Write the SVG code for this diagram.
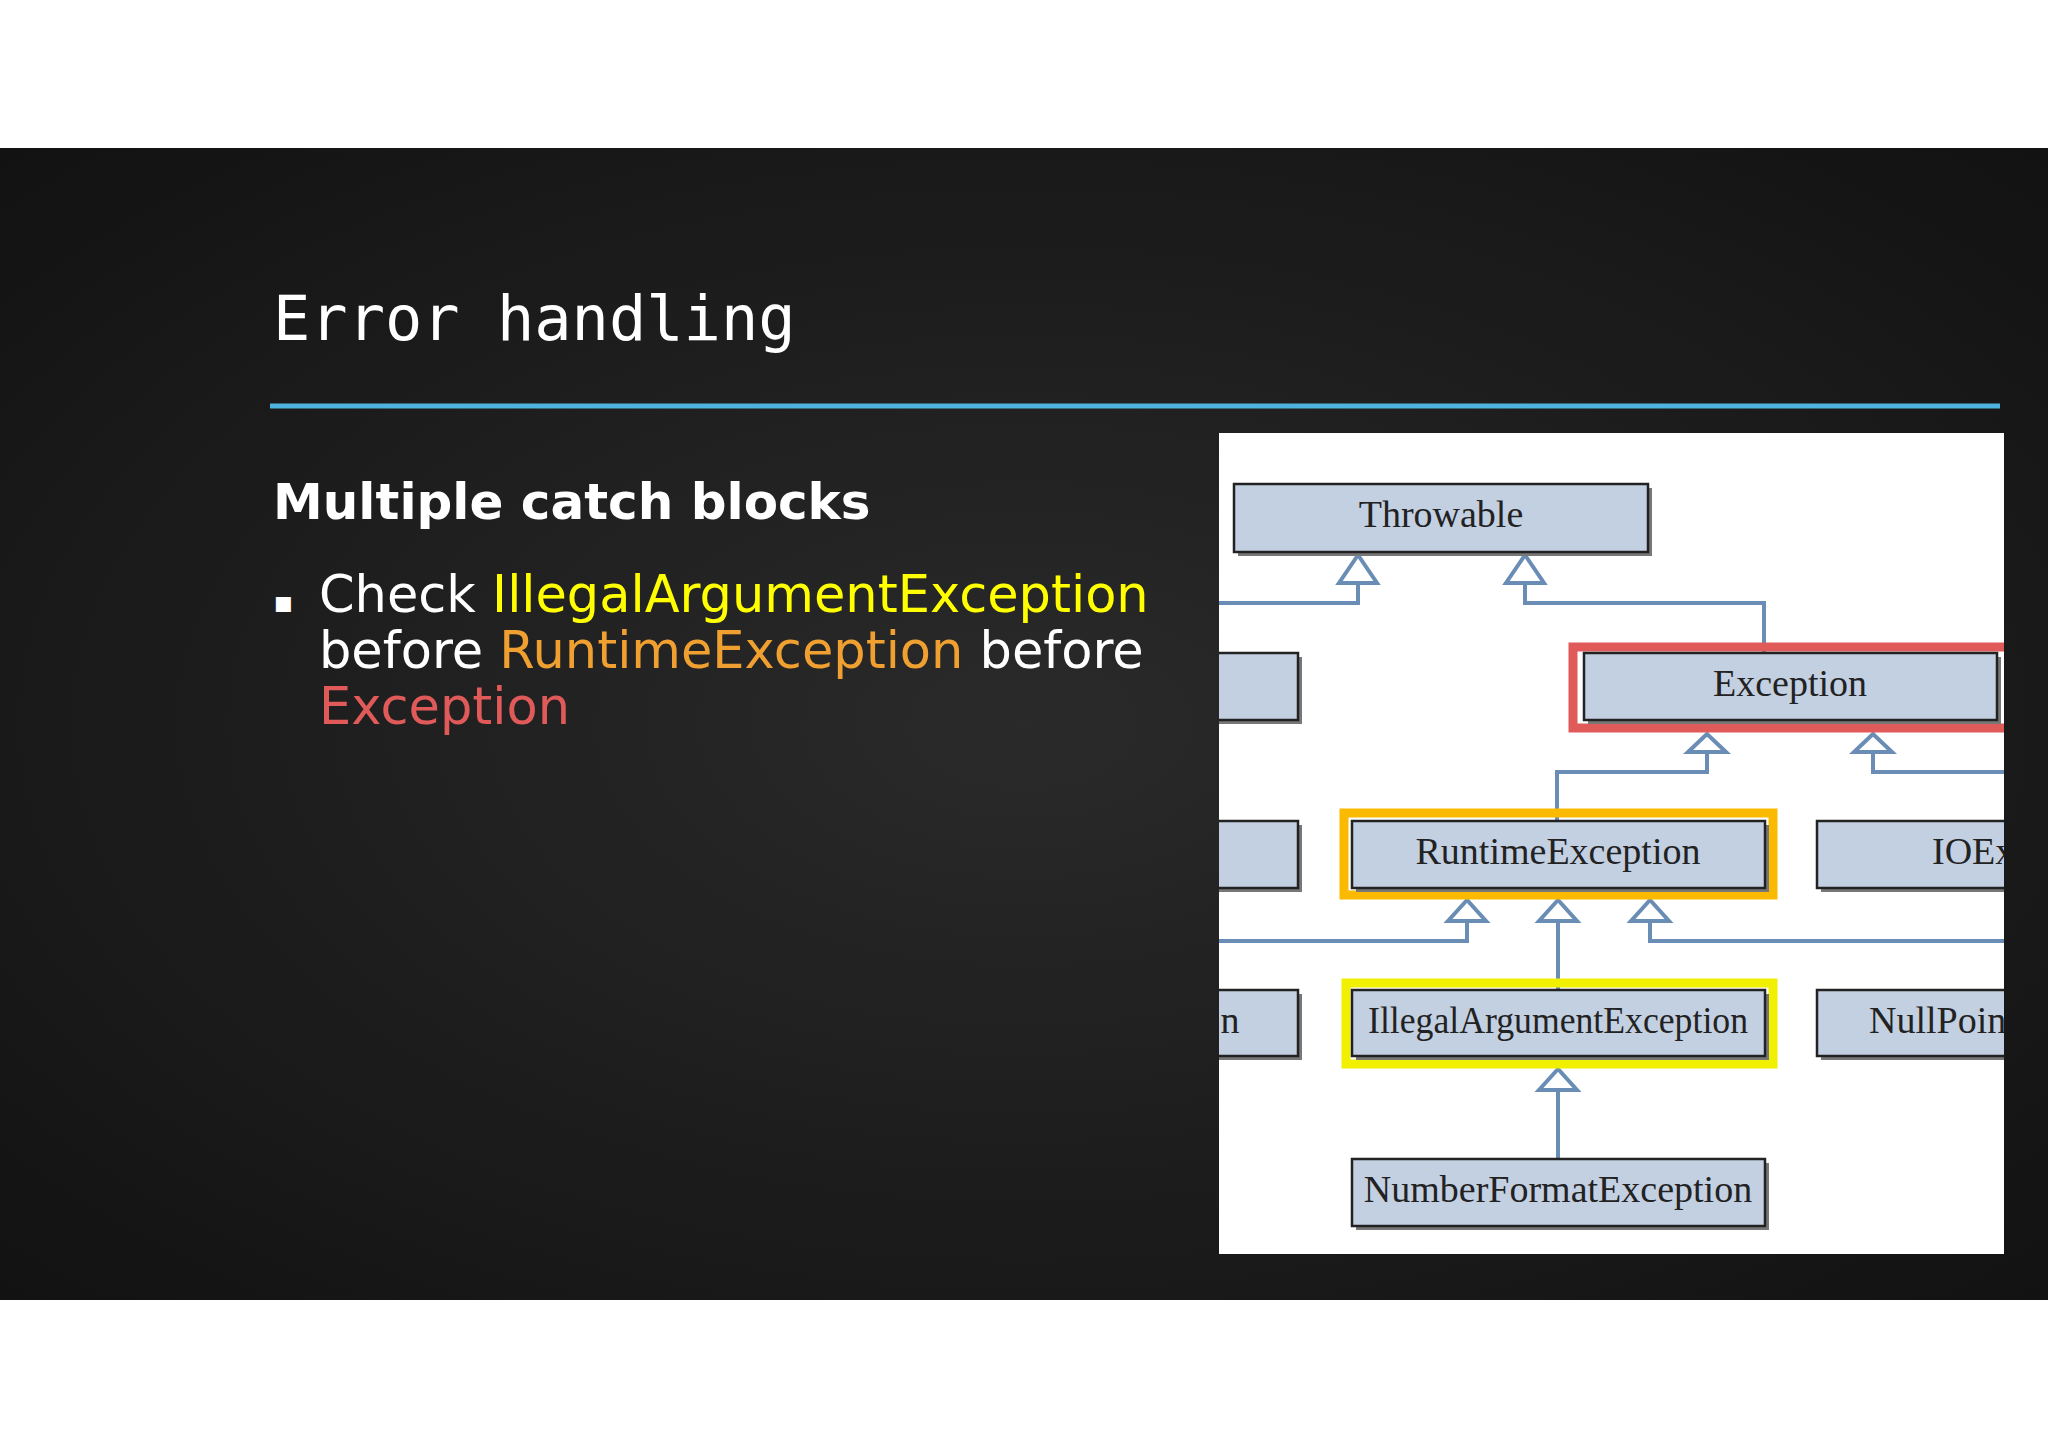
<svg xmlns="http://www.w3.org/2000/svg" width="2048" height="1448" viewBox="0 0 2048 1448">
<defs>
<style>
.box{fill:#c2d0e2;stroke:#222;stroke-width:2.5}
.sh{fill:#777}
.lbl{font-family:"Liberation Serif",serif;font-size:38px;fill:#222;text-anchor:middle}
.con{fill:none;stroke:#6a8db5;stroke-width:4}
.tri{fill:#fff;stroke:#6a8db5;stroke-width:4}
</style>
<clipPath id="panel"><rect x="1219" y="433" width="785" height="821"/></clipPath>
<radialGradient id="bg" cx="0.5" cy="0.5" r="0.7"><stop offset="0" stop-color="#2a2a2a"/><stop offset="1" stop-color="#121212"/></radialGradient>
</defs>
<rect width="2048" height="1448" fill="#fff"/>
<rect x="0" y="148" width="2048" height="1152" fill="url(#bg)"/>
<text x="273" y="340" font-family="DejaVu Sans Mono,monospace" font-size="62" fill="#fff">Error handling</text>
<line x1="270" y1="406" x2="2000" y2="406" stroke="#4fb3e0" stroke-width="5"/>
<text x="273" y="519" font-family="DejaVu Sans,sans-serif" font-weight="bold" font-size="50" fill="#fff">Multiple catch blocks</text>
<text font-family="DejaVu Sans,sans-serif" font-size="51" fill="#fff">
<tspan x="273" y="612" font-size="30">▪</tspan>
<tspan x="319" y="612">Check <tspan fill="#ffff00">IllegalArgumentException</tspan></tspan>
<tspan x="319" y="668">before <tspan fill="#f0a030">RuntimeException</tspan> before</tspan>
<tspan x="319" y="724" fill="#e05a5a">Exception</tspan>
</text>
<rect x="1219" y="433" width="785" height="821" fill="#fff"/>
<g clip-path="url(#panel)">
<g id="connectors">
<path class="con" d="M1219 603H1358V583M1525 583V603H1764V653"/>
<path class="con" d="M1557 821V772H1707V752M1873 752V772H2004"/>
<path class="con" d="M1219 941H1467V921M1558 921V990M1650 921V941H2004"/>
<path class="con" d="M1558 1090V1159"/>
<path class="tri" d="M1358 555L1339 583H1377Z"/>
<path class="tri" d="M1525 555L1506 583H1544Z"/>
<path class="tri" d="M1707 734L1688 752H1726Z"/>
<path class="tri" d="M1873 734L1854 752H1892Z"/>
<path class="tri" d="M1467 900L1448 921H1486Z"/>
<path class="tri" d="M1558 900L1539 921H1577Z"/>
<path class="tri" d="M1650 900L1631 921H1669Z"/>
<path class="tri" d="M1558 1069L1539 1090H1577Z"/>
</g>
<g id="throwable"><rect class="sh" x="1238" y="488" width="414" height="68"/><rect class="box" x="1234" y="484" width="414" height="68"/><text class="lbl" x="1441" y="527">Throwable</text></g>
<g id="left1"><rect class="sh" x="1194" y="657" width="108" height="67"/><rect class="box" x="1190" y="653" width="108" height="67"/></g>
<g id="left2"><rect class="sh" x="1194" y="825" width="108" height="67"/><rect class="box" x="1190" y="821" width="108" height="67"/></g>
<g id="left3"><rect class="sh" x="1194" y="994" width="108" height="66"/><rect class="box" x="1190" y="990" width="108" height="66"/><text class="lbl" x="1230" y="1033">n</text></g>
<g id="exception"><rect x="1573" y="647" width="437" height="81" fill="none" stroke="#e05a5a" stroke-width="9"/><rect class="sh" x="1588" y="657" width="413" height="67"/><rect class="box" x="1584" y="653" width="413" height="67"/><text class="lbl" x="1790" y="696">Exception</text></g>
<g id="runtime"><rect x="1344" y="813" width="429" height="82" fill="none" stroke="#fbb900" stroke-width="9"/><rect class="sh" x="1356" y="825" width="413" height="67"/><rect class="box" x="1352" y="821" width="413" height="67"/><text class="lbl" x="1558" y="864">RuntimeException</text></g>
<g id="ioex"><rect class="sh" x="1821" y="825" width="300" height="67"/><rect class="box" x="1817" y="821" width="300" height="67"/><text x="1932" y="864" font-family="Liberation Serif,serif" font-size="38" fill="#222">IOEx</text></g>
<g id="illegal"><rect x="1346" y="983" width="427" height="81" fill="none" stroke="#f0f000" stroke-width="9"/><rect class="sh" x="1356" y="994" width="413" height="66"/><rect class="box" x="1352" y="990" width="413" height="66"/><text class="lbl" x="1558" y="1033" textLength="380" lengthAdjust="spacingAndGlyphs">IllegalArgumentException</text></g>
<g id="nullpoint"><rect class="sh" x="1821" y="994" width="300" height="66"/><rect class="box" x="1817" y="990" width="300" height="66"/><text x="1869" y="1033" font-family="Liberation Serif,serif" font-size="38" fill="#222">NullPoint</text></g>
<g id="numberformat"><rect class="sh" x="1356" y="1163" width="413" height="67"/><rect class="box" x="1352" y="1159" width="413" height="67"/><text class="lbl" x="1558" y="1202">NumberFormatException</text></g>
</g>
</svg>
